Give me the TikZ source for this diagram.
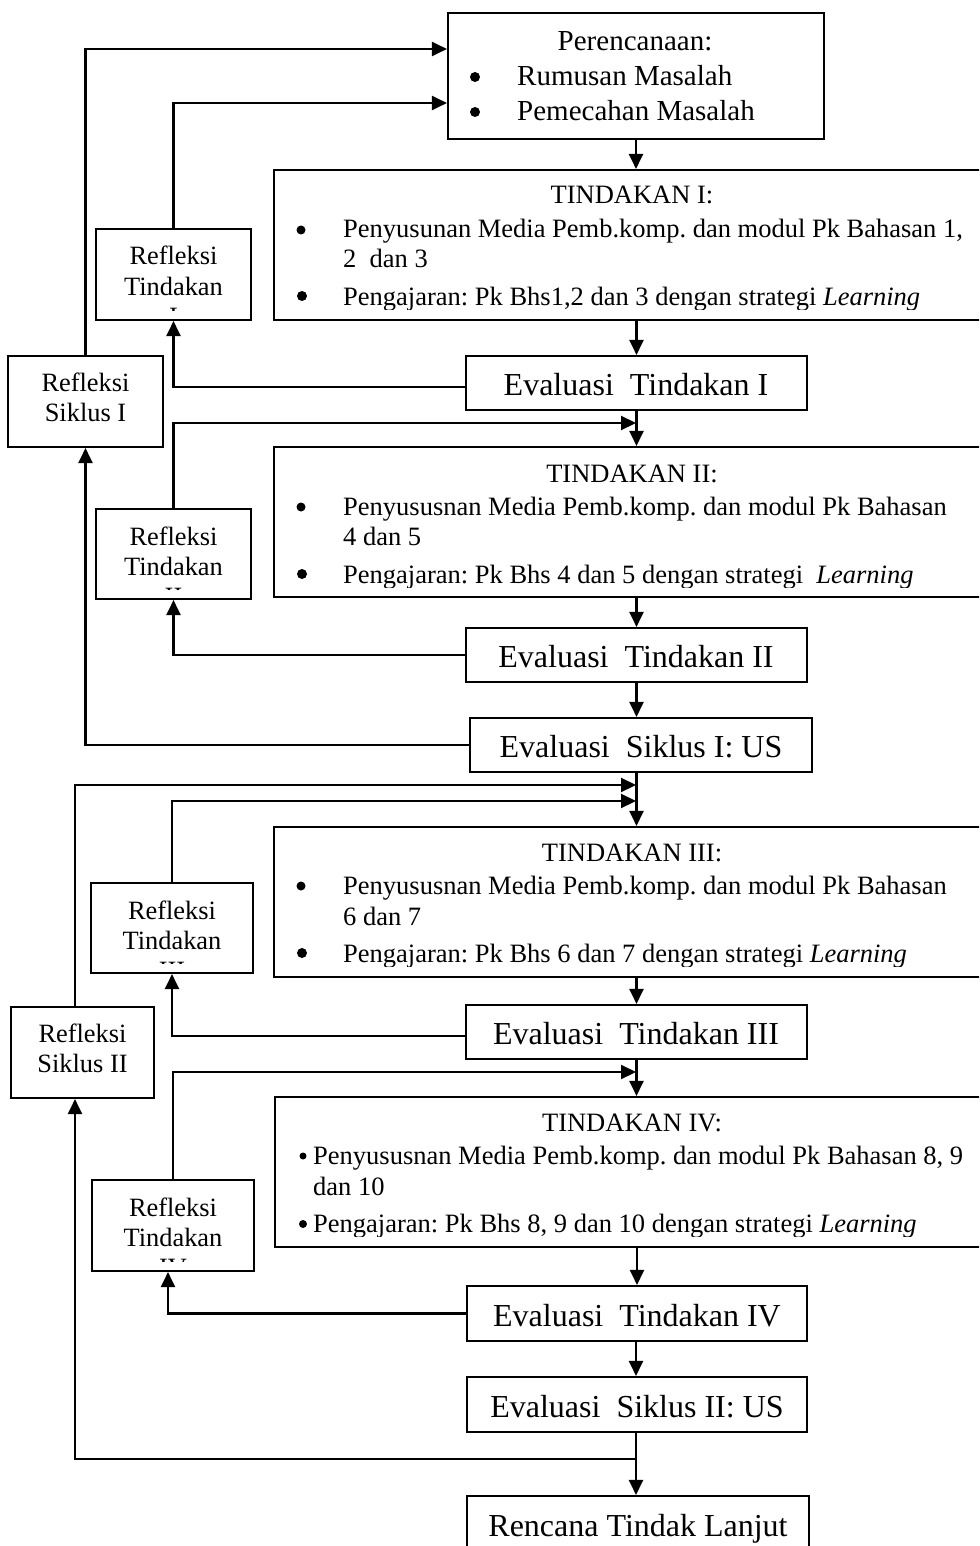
\documentclass[tikz,border=0pt]{standalone}
\usepackage{fontspec}
\setmainfont{Liberation Serif}
\usetikzlibrary{arrows.meta,fit}
\begin{document}
\frenchspacing
\begin{tikzpicture}[x=1pt,y=-1pt,
  lw/.style={line width=2.1pt},
  frame/.style={draw, line width=2.1pt, inner sep=0pt, fit={#1}},
  arr/.style={line width=2.1pt, -{Triangle[length=15pt,width=14pt]}},
  tt/.style={font=\fontsize{26.5}{30}\selectfont, inner sep=0pt},
  ev/.style={font=\fontsize{32}{36}\selectfont, inner sep=0pt},
  pr/.style={font=\fontsize{29}{33}\selectfont, inner sep=0pt},
  rf/.style={font=\fontsize{26.4}{30}\selectfont, inner sep=0pt},
  dot/.style={circle, fill, inner sep=0pt, minimum size=#1},
]
\useasboundingbox (0,0) rectangle (979,1546);
\fill[white] (0,0) rectangle (979,1546);
\clip (0,0) rectangle (979,1546);

% ---------- boxes ----------
\node[frame={(448,13) (824,139)}] (per) {};
\node[frame={(274,170) (1000,320)}] (t1) {};
\node[frame={(274,447) (1000,597)}] (t2) {};
\node[frame={(274,827) (1000,977)}] (t3) {};
\node[frame={(275,1097) (1000,1247)}] (t4) {};

\node[frame={(96,229) (251,320)}] (rt1) {};
\node[frame={(96,509) (251,599)}] (rt2) {};
\node[frame={(91,883) (253,973)}] (rt3) {};
\node[frame={(92,1180) (254,1271)}] (rt4) {};

\node[frame={(8,356) (163,447)}] (rs1) {};
\node[frame={(11,1007) (154,1098)}] (rs2) {};

\node[frame={(466,356) (807,410)}] (e1) {};
\node[frame={(466,628) (807,682)}] (e2) {};
\node[frame={(470,718) (812,772)}] (es1) {};
\node[frame={(466,1005) (807,1059)}] (e3) {};
\node[frame={(467,1286) (807,1341)}] (e4) {};
\node[frame={(467,1377) (807,1432)}] (es2) {};
\node[frame={(467,1496) (809,1556)}] (rtl) {};

\node[ev, anchor=base] (e1t) at (636,395) {Evaluasi\ \ Tindakan I};
\node[ev, anchor=base] (e2t) at (636,667) {Evaluasi\ \ Tindakan II};
\node[ev, anchor=base] (es1t) at (641,757) {Evaluasi\ \ Siklus I: US};
\node[ev, anchor=base] (e3t) at (636,1044) {Evaluasi\ \ Tindakan III};
\node[ev, anchor=base] (e4t) at (637,1326) {Evaluasi\ \ Tindakan IV};
\node[ev, anchor=base] (es2t) at (637,1417) {Evaluasi\ \ Siklus II: US};
\node[ev, anchor=base] (rtlt) at (638,1536) {Rencana Tindak Lanjut};

% ---------- Perencanaan text ----------
\node[pr, anchor=base] (perh) at (635,51) {Perencanaan:};
\node[dot=10pt] (perb1) at (475,77) {};
\node[pr, anchor=base west] (pera) at (517,86) {Rumusan Masalah};
\node[dot=10pt] (perb2) at (475,112) {};
\node[pr, anchor=base west] (perc) at (517,121) {Pemecahan Masalah};

% ---------- Tindakan texts ----------
\begin{scope}
\clip (274,170) rectangle (1000,309);
\node[tt, anchor=base] (t1h) at (632,204) {TINDAKAN I:};
\node[dot=9pt] (t1b1) at (301,230) {};
\node[tt, anchor=base west] (t1a) at (343,237) {Penyusunan Media Pemb.komp. dan modul Pk Bahasan 1,};
\node[tt, anchor=base west] (t1a2) at (343,268) {2\ \ dan 3};
\node[dot=10pt] (t1b2) at (302,296) {};
\node[tt, anchor=base west] (t1c) at (343,305) {Pengajaran: Pk Bhs1,2 dan 3 dengan strategi \textit{Learning}};
\end{scope}

\begin{scope}
\clip (274,447) rectangle (1000,587);
\node[tt, anchor=base] (t2h) at (632,482) {TINDAKAN II:};
\node[dot=9pt] (t2b1) at (301,507) {};
\node[tt, anchor=base west] (t2a) at (343,515) {Penyususnan Media Pemb.komp. dan modul Pk Bahasan};
\node[tt, anchor=base west] (t2a2) at (343,545) {4 dan 5};
\node[dot=10pt] (t2b2) at (302,574) {};
\node[tt, anchor=base west] (t2c) at (343,583) {Pengajaran: Pk Bhs 4 dan 5 dengan strategi\ \ \textit{Learning}};
\end{scope}

\begin{scope}
\clip (274,827) rectangle (1000,966);
\node[tt, anchor=base] (t3h) at (632,861) {TINDAKAN III:};
\node[dot=9pt] (t3b1) at (301,886) {};
\node[tt, anchor=base west] (t3a) at (343,894) {Penyususnan Media Pemb.komp. dan modul Pk Bahasan};
\node[tt, anchor=base west] (t3a2) at (343,925) {6 dan 7};
\node[dot=10pt] (t3b2) at (302,953) {};
\node[tt, anchor=base west] (t3c) at (343,962) {Pengajaran: Pk Bhs 6 dan 7 dengan strategi \textit{Learning}};
\end{scope}

\begin{scope}
\clip (275,1097) rectangle (1000,1236);
\node[tt, anchor=base] (t4h) at (632,1131) {TINDAKAN IV:};
\node[dot=7pt] (t4b1) at (303,1156) {};
\node[tt, anchor=base west] (t4a) at (313,1164) {Penyususnan Media Pemb.komp. dan modul Pk Bahasan 8, 9};
\node[tt, anchor=base west] (t4a2) at (313,1195) {dan 10};
\node[dot=8pt] (t4b2) at (303,1224) {};
\node[tt, anchor=base west] (t4c) at (313,1232) {Pengajaran: Pk Bhs 8, 9 dan 10 dengan strategi \textit{Learning}};
\end{scope}

% ---------- Refleksi texts ----------
\begin{scope}
\clip (96,229) rectangle (251,310);
\node[rf, anchor=base] (rt1a) at (173.5,265) {Refleksi};
\node[rf, anchor=base] (rt1b) at (173.5,295) {Tindakan};
\node[rf, anchor=base] (rt1c) at (173.5,325) {I};
\end{scope}
\begin{scope}
\clip (96,509) rectangle (251,589);
\node[rf, anchor=base] (rt2a) at (173.5,545) {Refleksi};
\node[rf, anchor=base] (rt2b) at (173.5,575) {Tindakan};
\node[rf, anchor=base] (rt2c) at (173.5,605) {II};
\end{scope}
\begin{scope}
\clip (91,883) rectangle (253,963);
\node[rf, anchor=base] (rt3a) at (172,919) {Refleksi};
\node[rf, anchor=base] (rt3b) at (172,949) {Tindakan};
\node[rf, anchor=base] (rt3c) at (172,979) {III};
\end{scope}
\begin{scope}
\clip (92,1180) rectangle (254,1261);
\node[rf, anchor=base] (rt4a) at (173,1216) {Refleksi};
\node[rf, anchor=base] (rt4b) at (173,1246) {Tindakan};
\node[rf, anchor=base] (rt4c) at (173,1276) {IV};
\end{scope}

\node[rf, anchor=base] (rs1a) at (85.5,391) {Refleksi};
\node[rf, anchor=base] (rs1b) at (85.5,421) {Siklus I};
\node[rf, anchor=base] (rs2a) at (82.5,1042) {Refleksi};
\node[rf, anchor=base] (rs2b) at (82.5,1072) {Siklus II};

% ---------- junction coordinates ----------
\coordinate (j2) at (636,423);
\coordinate (j3a) at (636,785);
\coordinate (j3b) at (636,801);
\coordinate (j4) at (636,1072);
\coordinate (j5) at (636,1459);

% ---------- connectors ----------
\draw[arr] (per.south) -- (per.south |- t1.north);
\draw[arr] (rs1.north) |- ([yshift=27pt]per.west);
\draw[arr] (rt1.north) |- ([yshift=-27pt]per.west);
\draw[arr] (e1.north |- t1.south) -- (e1.north);
\draw[arr] ([yshift=-4pt]e1.west) -| (rt1.south);
\draw[arr] (e1.south) -- (e1.south |- t2.north);
\draw[arr] (rt2.north) |- (j2);
\draw[arr] (e2.north |- t2.south) -- (e2.north);
\draw[arr] (e2.west) -| (rt2.south);
\draw[arr] (e2.south) -- (e2.south |- es1.north);
\draw[arr] (es1.west) -| (rs1.south);
\draw[arr] (e2.south |- es1.south) -- (e2.south |- t3.north);
\draw[arr] ([xshift=-7.5pt]rs2.north) |- (j3a);
\draw[arr] (rt3.north) |- (j3b);
\draw[arr] (e3.north |- t3.south) -- (e3.north);
\draw[arr] ([yshift=-4pt]e3.west) -| (rt3.south);
\draw[arr] (e3.south) -- (e3.south |- t4.north);
\draw[arr] (rt4.north) |- (j4);
\draw[arr] (e4.north |- t4.south) -- (e4.north);
\draw[arr] (e4.west) -| ([xshift=-5pt]rt4.south);
\draw[arr] (j5 |- e4.south) -- (j5 |- es2.north);
\draw[lw] (j5 |- es2.south) -- (j5);
\draw[arr] (j5) -| ([xshift=-7.5pt]rs2.south);
\draw[arr] (j5) -- (j5 |- rtl.north);
\end{tikzpicture}
\end{document}
